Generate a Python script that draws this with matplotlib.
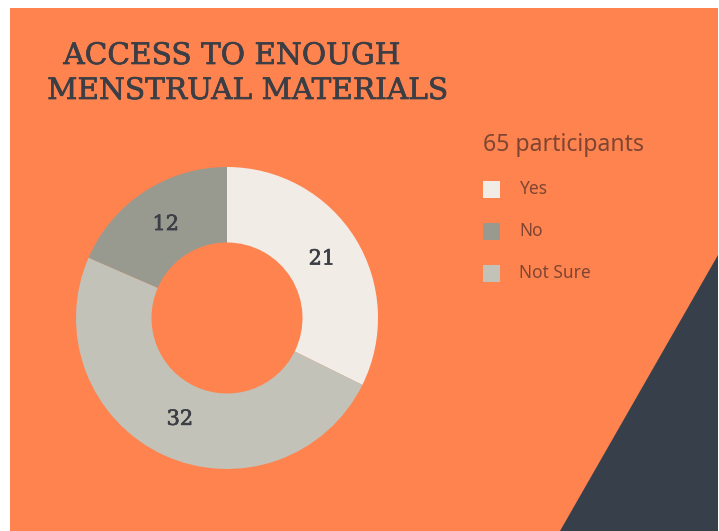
import matplotlib
matplotlib.use("Agg")
import matplotlib.pyplot as plt
import matplotlib.patheffects as pe
from matplotlib.patches import Rectangle, Polygon

# data
labels = ["Yes", "Not Sure", "No"]
values = [21, 32, 12]
colors = ["#F1ECE6", "#C3C2B8", "#989A90"]
legend_labels = ["Yes", "No", "Not Sure"]
legend_colors = ["#F1ECE6", "#989A90", "#C3C2B8"]
total_text = "65 participants"

W, H = 719, 531
fig = plt.figure(figsize=(W / 100, H / 100), dpi=100)
fig.patch.set_facecolor("white")

# background panel + dark triangle (pixel coords)
bg = fig.add_axes([0, 0, 1, 1])
bg.set_xlim(0, W)
bg.set_ylim(H, 0)
bg.axis("off")
bg.add_patch(Rectangle((10, 8), W - 11, H - 8, color="#FF834F", lw=0))
bg.add_patch(Polygon([(560, H), (W - 1, 255), (W - 1, H)], color="#37404A", lw=0))

dark = "#3B3E45"
title_kw = dict(family="DejaVu Serif", fontsize=21.3, color=dark, ha="center", va="center",
                path_effects=[pe.withStroke(linewidth=0.5, foreground=dark)])
bg.text(232, 56, "ACCESS TO ENOUGH", **title_kw)
bg.text(248, 91, "MENSTRUAL MATERIALS", **title_kw)

# legend drawn by hand
txt_col = "#7E4632"
bg.text(483, 145, total_text, family="Noto Sans", fontsize=16.6, color=txt_col, va="center")
for i, (lab, col) in enumerate(zip(legend_labels, legend_colors)):
    y = 189 + i * 42
    bg.add_patch(Rectangle((483, y - 8), 17, 17, color=col, lw=0))
    bg.text(519, y, lab, family="Noto Sans", fontsize=12.5, color=txt_col, va="center")

# donut
cx, cy, R = 227, 318, 151
ax = fig.add_axes([(cx - R) / W, (H - cy - R) / H, 2 * R / W, 2 * R / H])
wedges, texts, autotexts = ax.pie(
    values, colors=colors, startangle=90, counterclock=False,
    wedgeprops=dict(width=0.5, linewidth=0),
    autopct=lambda p: "%d" % round(p * sum(values) / 100),
    pctdistance=0.74,
    textprops=dict(family="DejaVu Serif", fontsize=15, color=dark,
                   path_effects=[pe.withStroke(linewidth=0.5, foreground=dark)]),
)
ax.set_xlim(-1, 1)
ax.set_ylim(-1, 1)

fig.savefig("out.png", dpi=100, facecolor=fig.get_facecolor())
